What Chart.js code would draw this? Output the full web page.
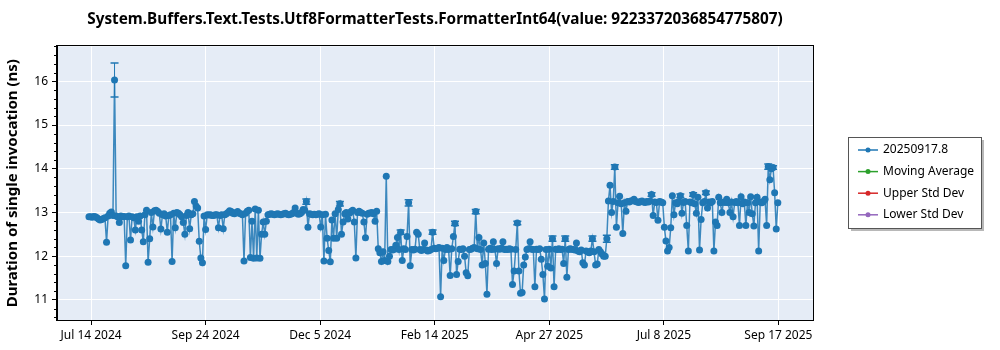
<!DOCTYPE html>
<html>
<head>
<meta charset="utf-8">
<script src="https://cdn.jsdelivr.net/npm/chart.js@4.4.1/dist/chart.umd.min.js"></script>
<style>
  html, body { margin: 0; padding: 0; background: #fff; }
</style>
</head>
<body>
<canvas id="chart" width="1000" height="350"></canvas>
<script>
const chartTitle = 'System.Buffers.Text.Tests.Utf8FormatterTests.FormatterInt64(value: 9223372036854775807)'
const yTitle = 'Duration of single invocation (ns)'
const seriesNames = ['20250917.8', 'Moving Average', 'Upper Std Dev', 'Lower Std Dev']
const seriesColors = ['#1f77b4', '#2ca02c', '#d62728', '#9467bd']

const xRange = ['2024-06-23T12:00Z', '2025-10-09T12:00Z']
const xTicks = ['2024-07-14T20:00Z', '2024-09-24T12:00Z', '2024-12-05T04:00Z', '2025-02-14T20:00Z', '2025-04-27T12:00Z', '2025-07-08T04:00Z', '2025-09-17T20:00Z']
const xTickLabels = ['Jul 14 2024', 'Sep 24 2024', 'Dec 5 2024', 'Feb 14 2025', 'Apr 27 2025', 'Jul 8 2025', 'Sep 17 2025']
const yRange = [10.54, 16.8]
const yTicks = [11, 12, 13, 14, 15, 16]

const runDates = [
  '2024-07-13','2024-07-14','2024-07-15','2024-07-16','2024-07-17','2024-07-18','2024-07-19','2024-07-20','2024-07-21','2024-07-22','2024-07-23','2024-07-24','2024-07-25','2024-07-26','2024-07-27','2024-07-28','2024-07-29','2024-07-30','2024-07-31',
  '2024-08-01','2024-08-02','2024-08-03','2024-08-04','2024-08-05','2024-08-06','2024-08-07','2024-08-08','2024-08-09','2024-08-10','2024-08-11','2024-08-12','2024-08-13','2024-08-14','2024-08-15','2024-08-16','2024-08-17','2024-08-18','2024-08-19','2024-08-20','2024-08-21','2024-08-22','2024-08-23','2024-08-24','2024-08-25','2024-08-26','2024-08-27','2024-08-28','2024-08-29','2024-08-30','2024-08-31',
  '2024-09-01','2024-09-02','2024-09-03','2024-09-04','2024-09-05','2024-09-06','2024-09-07','2024-09-08','2024-09-09','2024-09-10','2024-09-11','2024-09-12','2024-09-13','2024-09-14','2024-09-15','2024-09-16','2024-09-17','2024-09-18','2024-09-19','2024-09-20','2024-09-21','2024-09-22','2024-09-23','2024-09-24','2024-09-25','2024-09-26','2024-09-27','2024-09-28','2024-09-29','2024-09-30',
  '2024-10-01','2024-10-02','2024-10-03','2024-10-04','2024-10-05','2024-10-06','2024-10-07','2024-10-08','2024-10-09','2024-10-10','2024-10-11','2024-10-12','2024-10-13','2024-10-14','2024-10-15','2024-10-16','2024-10-17','2024-10-18','2024-10-19','2024-10-20','2024-10-21','2024-10-22','2024-10-23','2024-10-24','2024-10-25','2024-10-26','2024-10-27','2024-10-28','2024-10-29','2024-10-30','2024-10-31',
  '2024-11-01','2024-11-02','2024-11-03','2024-11-04','2024-11-05','2024-11-06','2024-11-07','2024-11-08','2024-11-09','2024-11-10','2024-11-11','2024-11-12','2024-11-13','2024-11-14','2024-11-15','2024-11-16','2024-11-17','2024-11-18','2024-11-19','2024-11-20','2024-11-21','2024-11-22','2024-11-23','2024-11-24','2024-11-25','2024-11-26','2024-11-27','2024-11-28','2024-11-29','2024-11-30',
  '2024-12-01','2024-12-02','2024-12-03','2024-12-04','2024-12-05','2024-12-06','2024-12-07','2024-12-08','2024-12-09','2024-12-10','2024-12-11','2024-12-12','2024-12-13','2024-12-14','2024-12-15','2024-12-16','2024-12-17','2024-12-18','2024-12-19','2024-12-20','2024-12-21','2024-12-22','2024-12-23','2024-12-24','2024-12-25','2024-12-26','2024-12-27','2024-12-28','2024-12-29','2024-12-30','2024-12-31',
  '2025-01-01','2025-01-02','2025-01-03','2025-01-04','2025-01-05','2025-01-06','2025-01-07','2025-01-08','2025-01-09','2025-01-10','2025-01-11','2025-01-12','2025-01-13','2025-01-14','2025-01-15','2025-01-16','2025-01-17','2025-01-18','2025-01-19','2025-01-20','2025-01-21','2025-01-22','2025-01-23','2025-01-24','2025-01-25','2025-01-26','2025-01-27','2025-01-28','2025-01-29','2025-01-30','2025-01-31',
  '2025-02-01','2025-02-02','2025-02-03','2025-02-04','2025-02-05','2025-02-06','2025-02-07','2025-02-08','2025-02-09','2025-02-10','2025-02-11','2025-02-12','2025-02-13','2025-02-14','2025-02-15','2025-02-16','2025-02-17','2025-02-18','2025-02-19','2025-02-20','2025-02-21','2025-02-22','2025-02-23','2025-02-24','2025-02-25','2025-02-26','2025-02-27','2025-02-28',
  '2025-03-01','2025-03-02','2025-03-03','2025-03-04','2025-03-05','2025-03-06','2025-03-07','2025-03-08','2025-03-09','2025-03-10','2025-03-11','2025-03-12','2025-03-13','2025-03-14','2025-03-15','2025-03-16','2025-03-17','2025-03-18','2025-03-19','2025-03-20','2025-03-21','2025-03-22','2025-03-23','2025-03-24','2025-03-25','2025-03-26','2025-03-27','2025-03-28','2025-03-29','2025-03-30','2025-03-31',
  '2025-04-01','2025-04-02','2025-04-03','2025-04-04','2025-04-05','2025-04-06','2025-04-07','2025-04-08','2025-04-09','2025-04-10','2025-04-11','2025-04-12','2025-04-13','2025-04-14','2025-04-15','2025-04-16','2025-04-17','2025-04-18','2025-04-19','2025-04-20','2025-04-21','2025-04-22','2025-04-23','2025-04-24','2025-04-25','2025-04-26','2025-04-27','2025-04-28','2025-04-29','2025-04-30',
  '2025-05-01','2025-05-02','2025-05-03','2025-05-04','2025-05-05','2025-05-06','2025-05-07','2025-05-08','2025-05-09','2025-05-10','2025-05-11','2025-05-12','2025-05-13','2025-05-14','2025-05-15','2025-05-16','2025-05-17','2025-05-18','2025-05-19','2025-05-20','2025-05-21','2025-05-22','2025-05-23','2025-05-24','2025-05-25','2025-05-26','2025-05-27','2025-05-28','2025-05-29','2025-05-30','2025-05-31',
  '2025-06-01','2025-06-02','2025-06-03','2025-06-04','2025-06-05','2025-06-06','2025-06-07','2025-06-08','2025-06-09','2025-06-10','2025-06-11','2025-06-12','2025-06-13','2025-06-14','2025-06-15','2025-06-16','2025-06-17','2025-06-18','2025-06-19','2025-06-20','2025-06-21','2025-06-22','2025-06-23','2025-06-24','2025-06-25','2025-06-26','2025-06-27','2025-06-28','2025-06-29','2025-06-30',
  '2025-07-01','2025-07-02','2025-07-03','2025-07-04','2025-07-05','2025-07-06','2025-07-07','2025-07-08','2025-07-09','2025-07-10','2025-07-11','2025-07-12','2025-07-13','2025-07-14','2025-07-15','2025-07-16','2025-07-17','2025-07-18','2025-07-19','2025-07-20','2025-07-21','2025-07-22','2025-07-23','2025-07-24','2025-07-25','2025-07-26','2025-07-27','2025-07-28','2025-07-29','2025-07-30','2025-07-31',
  '2025-08-01','2025-08-02','2025-08-03','2025-08-04','2025-08-05','2025-08-06','2025-08-07','2025-08-08','2025-08-09','2025-08-10','2025-08-11','2025-08-12','2025-08-13','2025-08-14','2025-08-15','2025-08-16','2025-08-17','2025-08-18','2025-08-19','2025-08-20','2025-08-21','2025-08-22','2025-08-23','2025-08-24','2025-08-25','2025-08-26','2025-08-27','2025-08-28','2025-08-29','2025-08-30','2025-08-31',
  '2025-09-01','2025-09-02','2025-09-03','2025-09-04','2025-09-05','2025-09-06','2025-09-07','2025-09-08','2025-09-09','2025-09-10','2025-09-11','2025-09-12','2025-09-13','2025-09-14','2025-09-15','2025-09-16','2025-09-17'
]

// ns per invocation, one run per day
const runTimes = [
  12.90,12.90,12.89,12.91,12.90,12.88,12.85,12.83,12.84,12.86,12.88,12.32,12.92,12.98,13.01,12.93,16.03,12.92,12.90,
  12.77,12.92,12.90,12.91,11.78,12.90,12.92,12.37,12.90,12.88,12.60,12.90,12.80,12.92,12.60,12.33,12.95,13.05,11.86,12.40,13.00,12.67,13.04,13.05,13.02,12.98,12.62,12.95,12.97,12.92,12.55,
  12.93,12.95,11.88,12.98,12.65,13.00,12.98,12.95,12.90,12.77,12.50,12.93,13.00,12.63,12.95,12.97,13.25,13.15,13.10,12.34,11.96,11.85,12.92,12.61,12.95,12.94,12.95,12.93,12.93,12.95,
  12.95,12.65,12.93,12.95,12.63,12.95,12.97,13.00,13.04,13.02,12.98,12.97,13.00,13.02,12.98,12.97,12.95,11.89,12.98,13.03,13.05,11.97,12.80,11.95,13.08,11.96,13.05,11.95,12.50,12.78,12.50,
  12.80,12.95,12.96,12.97,12.96,12.95,12.96,12.97,12.96,12.95,12.96,12.97,12.98,12.96,12.95,12.96,12.97,13.00,13.10,12.98,12.96,12.97,13.00,13.07,13.05,13.25,12.66,12.97,12.96,12.95,
  12.96,12.95,12.96,12.97,12.67,12.95,11.89,12.96,12.41,12.13,11.87,12.83,12.41,12.97,12.41,13.07,13.20,12.50,12.78,12.97,13.00,12.85,12.98,13.02,13.05,12.78,11.96,13.00,13.03,13.00,12.98,
  12.78,12.42,12.96,12.98,12.99,13.00,12.97,12.80,13.03,12.17,12.08,11.88,12.10,11.90,13.83,11.88,12.00,12.15,12.14,12.16,12.25,12.43,12.15,12.55,11.90,12.17,12.15,12.45,13.22,11.78,12.15,
  12.14,12.16,12.55,12.50,12.15,12.13,12.15,12.30,12.14,12.12,12.13,12.15,12.55,12.18,12.17,12.18,12.20,11.07,12.18,11.90,12.15,12.20,12.15,11.56,12.17,12.45,12.75,11.58,
  11.88,12.16,12.15,12.17,12.00,11.62,11.55,12.15,12.16,12.18,12.20,13.02,12.17,12.43,12.15,11.80,12.30,11.83,11.13,12.16,12.18,12.15,12.33,12.16,11.83,12.17,12.16,12.18,12.33,12.15,12.16,
  12.15,12.17,12.16,11.35,11.66,12.15,12.76,11.66,11.15,11.17,11.80,11.98,12.15,12.17,12.33,12.16,12.15,11.30,12.16,12.15,12.17,11.93,11.58,11.02,12.15,11.77,12.16,11.73,12.40,11.30,
  12.16,12.15,12.17,12.15,12.16,11.83,12.40,11.52,12.15,12.17,12.16,12.15,12.14,12.30,12.12,12.10,12.14,11.85,11.80,12.12,12.10,12.08,12.12,12.40,12.10,11.80,11.82,12.15,12.10,12.05,12.00,
  12.00,12.40,13.26,13.62,13.00,13.25,14.04,12.66,13.22,13.37,13.20,12.52,13.22,13.03,13.25,13.24,13.26,13.27,13.30,13.25,13.24,13.23,13.25,13.26,13.24,13.23,13.25,13.24,13.26,13.41,
  12.93,13.24,13.23,12.82,13.25,13.24,13.22,12.66,12.35,12.12,12.20,12.65,13.38,12.95,13.22,13.20,13.25,13.38,12.98,13.23,13.25,12.70,12.12,13.24,13.22,13.41,13.20,12.98,13.35,12.14,12.84,
  13.22,13.25,13.45,13.10,13.24,13.22,13.25,12.12,12.78,12.70,13.35,13.22,13.00,13.24,13.23,13.30,13.22,13.00,13.24,12.90,13.23,13.25,13.22,12.70,13.36,13.20,13.24,12.70,13.22,13.00,13.36,
  12.97,12.69,13.22,13.35,12.12,13.24,13.22,13.25,13.30,12.70,14.05,13.75,14.00,14.03,13.45,12.62,13.22
]

// runs whose std dev is wide enough to show past the marker
const errDates = ['2024-07-29','2024-11-26','2024-12-17','2025-01-24','2025-01-29','2025-02-13','2025-02-27','2025-03-12','2025-04-07','2025-04-29','2025-05-07','2025-05-24','2025-06-02','2025-06-07','2025-06-30','2025-07-18','2025-07-26','2025-08-03','2025-09-11','2025-09-14']
const errSizes = [0.39,0.06,0.05,0.05,0.07,0.05,0.05,0.05,0.04,0.06,0.06,0.06,0.08,0.05,0.04,0.04,0.04,0.04,0.06,0.04]

const FONT = '"Noto Sans", "Open Sans", sans-serif'
const toTime = s => Date.parse(s.length === 10 ? s + 'T12:00Z' : s)

const plotFrame = {
  id: 'plotFrame',
  beforeDraw(chart) {
    const { ctx, chartArea: a } = chart
    ctx.save()
    ctx.fillStyle = '#e5ecf6'
    ctx.fillRect(a.left, a.top, a.right - a.left, a.bottom - a.top)
    ctx.restore()
  },
  afterDraw(chart) {
    const { ctx, chartArea: a, scales: { y } } = chart
    ctx.save()
    ctx.strokeStyle = '#000'
    ctx.lineWidth = 1
    ctx.strokeRect(Math.round(a.left) - 0.5, Math.round(a.top) - 0.5, Math.round(a.right - a.left) + 1, Math.round(a.bottom - a.top) + 1)
    // minor ticks every 0.2 on the value axis
    ctx.beginPath()
    for (let v = 10.6; v < yRange[1]; v += 0.2) {
      if (Math.abs(v - Math.round(v)) < 0.01) continue
      const py = Math.round(y.getPixelForValue(v)) + 0.5
      ctx.moveTo(a.left - 3, py)
      ctx.lineTo(a.left, py)
    }
    ctx.stroke()
    ctx.restore()
  }
}

const errorBars = {
  id: 'errorBars',
  beforeDatasetsDraw(chart) {
    const { ctx, scales: { x, y } } = chart
    ctx.save()
    ctx.strokeStyle = seriesColors[0]
    errDates.forEach((d, i) => {
      const k = runDates.indexOf(d)
      if (k < 0) return
      const px = x.getPixelForValue(toTime(d))
      const hi = y.getPixelForValue(runTimes[k] + errSizes[i])
      const lo = y.getPixelForValue(runTimes[k] - errSizes[i])
      ctx.lineWidth = 1
      ctx.beginPath()
      ctx.moveTo(px, hi)
      ctx.lineTo(px, lo)
      ctx.stroke()
      ctx.lineWidth = 1.5
      ctx.beginPath()
      ctx.moveTo(px - 4, hi)
      ctx.lineTo(px + 4, hi)
      ctx.moveTo(px - 4, lo)
      ctx.lineTo(px + 4, lo)
      ctx.stroke()
    })
    ctx.restore()
  }
}

const legendBox = {
  id: 'legendBox',
  afterDraw(chart) {
    const { ctx, chartArea: a } = chart
    const left = Math.round(a.right) + 35
    const width = 133
    const height = 91
    const top = Math.round((a.top + a.bottom) / 2 - height / 2) - 1
    ctx.save()
    ctx.fillStyle = 'rgba(0,0,0,0.28)'
    ctx.fillRect(left + 3, top + 3, width, height)
    ctx.fillStyle = '#fff'
    ctx.fillRect(left, top, width, height)
    ctx.strokeStyle = '#555'
    ctx.lineWidth = 1
    ctx.strokeRect(left + 0.5, top + 0.5, width, height)
    ctx.font = '12px ' + FONT
    ctx.textBaseline = 'middle'
    chart.data.datasets.forEach((ds, i) => {
      const cy = top + 13 + i * 21.6
      ctx.strokeStyle = seriesColors[i]
      ctx.fillStyle = seriesColors[i]
      ctx.lineWidth = 1.5
      ctx.beginPath()
      ctx.moveTo(left + 10, cy)
      ctx.lineTo(left + 30, cy)
      ctx.stroke()
      ctx.beginPath()
      ctx.arc(left + 20, cy, 2.5, 0, Math.PI * 2)
      ctx.fill()
      ctx.fillStyle = '#000'
      ctx.fillText(ds.label, left + 35, cy)
    })
    ctx.restore()
  }
}

const points = runDates.map((d, i) => ({ x: toTime(d), y: runTimes[i] }))

new Chart(document.getElementById('chart'), {
  type: 'line',
  data: {
    datasets: [
      {
        label: seriesNames[0],
        data: points,
        borderColor: 'rgba(31, 119, 180, 0.85)',
        borderWidth: 1.5,
        pointRadius: 3.5,
        pointBorderWidth: 0,
        pointBackgroundColor: seriesColors[0],
        tension: 0
      },
      { label: seriesNames[1], data: [], borderColor: seriesColors[1] },
      { label: seriesNames[2], data: [], borderColor: seriesColors[2] },
      { label: seriesNames[3], data: [], borderColor: seriesColors[3] }
    ]
  },
  options: {
    responsive: false,
    animation: false,
    layout: { padding: { left: 0, right: 187, top: 0, bottom: 0 } },
    plugins: {
      legend: { display: false },
      tooltip: { enabled: false },
      title: {
        display: true,
        text: chartTitle,
        fullSize: false,
        color: '#000',
        font: { family: FONT, size: 15.3, weight: 'bold' },
        padding: { top: 10, bottom: 18 }
      }
    },
    scales: {
      x: {
        type: 'linear',
        min: toTime(xRange[0]),
        max: toTime(xRange[1]),
        afterBuildTicks: s => { s.ticks = xTicks.map(t => ({ value: toTime(t) })) },
        afterFit: s => { s.height = 30 },
        ticks: {
          autoSkip: false,
          maxRotation: 0,
          color: '#000',
          padding: 3,
          font: { family: FONT, size: 12 },
          callback: (v, i) => xTickLabels[i]
        },
        grid: { color: '#fff', lineWidth: 1, tickColor: '#000', tickLength: 5 },
        border: { color: '#000' }
      },
      y: {
        min: yRange[0],
        max: yRange[1],
        afterBuildTicks: s => { s.ticks = yTicks.map(v => ({ value: v })) },
        afterFit: s => { s.width = 57 },
        title: {
          display: true,
          text: yTitle,
          color: '#000',
          font: { family: FONT, size: 15, weight: 'bold' },
          padding: { top: 4, bottom: 0 }
        },
        ticks: { color: '#000', padding: 4, font: { family: FONT, size: 12 } },
        grid: { color: '#fff', lineWidth: 1, tickColor: '#000', tickLength: 5 },
        border: { color: '#000' }
      }
    }
  },
  plugins: [plotFrame, errorBars, legendBox]
})
</script>
</body>
</html>
